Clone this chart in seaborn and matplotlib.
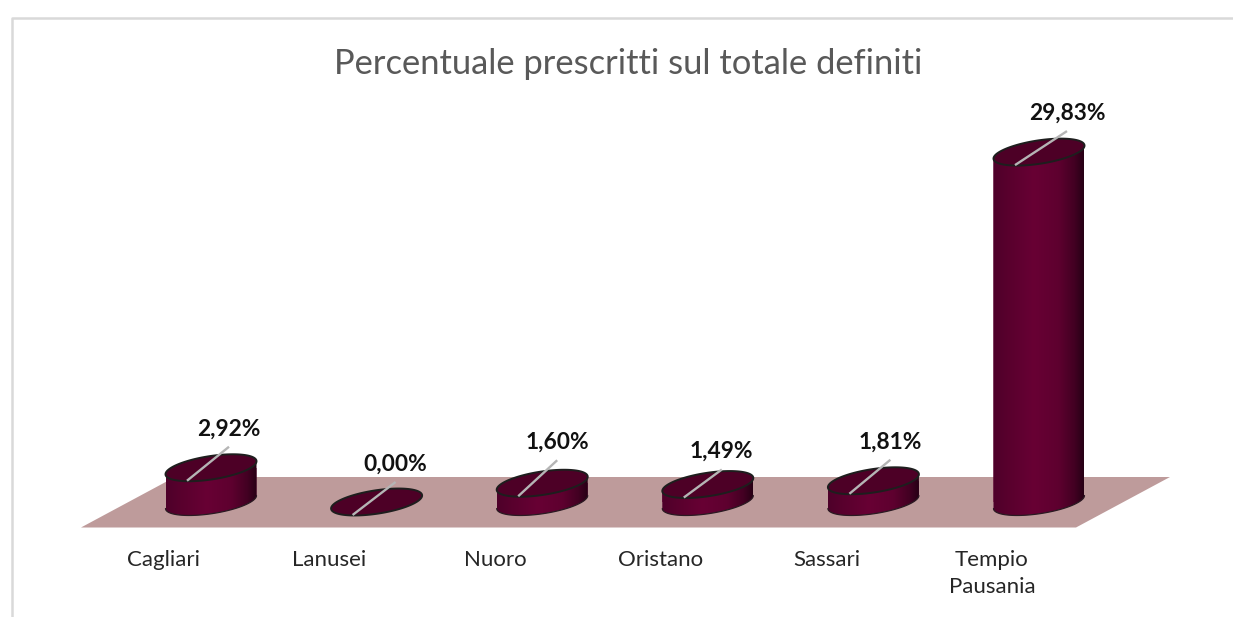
import numpy as np
import pandas as pd
import matplotlib
matplotlib.use("Agg")
import matplotlib.pyplot as plt
import seaborn as sns
from matplotlib.colors import LinearSegmentedColormap
from matplotlib.lines import Line2D
from matplotlib.patches import PathPatch, Polygon
from matplotlib.path import Path
from matplotlib.transforms import ScaledTranslation

# ---- data ----
sedi = ["Cagliari", "Lanusei", "Nuoro", "Oristano", "Sassari", "Tempio\nPausania"]
percentuali = [2.92, 0.00, 1.60, 1.49, 1.81, 29.83]
etichette = ["2,92%", "0,00%", "1,60%", "1,49%", "1,81%", "29,83%"]
titolo = "Percentuale prescritti sul totale definiti"

# ---- layout (figure pixels) ----
W, H = 1233, 617
X0, STEP = 211.0, 165.6      # pixel of first category, pixels per category
Y0, PXU = 502.0, 11.73       # pixel of value 0, pixels per percentage point
AX_BOTTOM = 536.0
label_dx = [18, 19, 15, 14, 17, 28]
label_dy = [39, 38, 41, 33, 39, 39]

sns.set_theme(style="white")
plt.rcParams["font.family"] = ["Lato", "DejaVu Sans"]

fig = plt.figure(figsize=(W / 100, H / 100), dpi=100, facecolor="white")
ax = fig.add_axes([0, (H - AX_BOTTOM) / H, 1, AX_BOTTOM / H])
ax.set_facecolor("none")

df = pd.DataFrame({"sede": sedi, "valore": percentuali})
bar_w = 91 / STEP
sns.barplot(data=df, x="sede", y="valore", color="#660033", width=bar_w,
            saturation=1, linewidth=0, ax=ax, zorder=2)

xlim = (-X0 / STEP, (W - X0) / STEP)
ylim = ((Y0 - AX_BOTTOM) / PXU, Y0 / PXU)

a = bar_w / 2
s = 6.5 / PXU
b = 11.8 / PXU
cmap = LinearSegmentedColormap.from_list(
    "cyl", [(0, "#4E002A"), (0.15, "#58002D"), (0.45, "#680034"),
            (0.72, "#5E002F"), (0.9, "#420022"), (1, "#260015")])
grad = np.linspace(0, 1, 256).reshape(1, -1)

# floor, derived from the pixel layout
def to_data(px, py):
    return ((px - X0) / STEP, (Y0 - py) / PXU)

ax.add_patch(Polygon([to_data(81, 527.5), to_data(1076, 527.5),
                      to_data(1170, 477), to_data(175, 477)],
                     closed=True, facecolor="#BE9B9B", edgecolor="none", zorder=1))

for i, bar in enumerate(ax.patches[:len(sedi)]):
    x_c = bar.get_x() + bar.get_width() / 2
    v = bar.get_height()
    t_front = np.linspace(np.pi, 2 * np.pi, 60)
    xb = x_c + a * np.cos(t_front)
    yb = b * np.sin(t_front) + s * np.cos(t_front)
    if v > 0:
        verts = np.concatenate([np.column_stack([xb, yb]),
                                np.column_stack([xb[::-1], yb[::-1] + v])])
        body = PathPatch(Path(np.vstack([verts, verts[0]]), closed=True),
                         transform=ax.transData, facecolor="none", edgecolor="none")
        ax.add_patch(body)
        bar.set_clip_path(body)
        im = ax.imshow(grad, cmap=cmap, aspect="auto", zorder=3,
                       extent=(x_c - a, x_c + a, -s - b, v + s + b))
        im.set_clip_path(body)
        # dark edge at the foot of the cylinder
        ax.plot(xb, yb, color="#2A1A22", lw=0.9, zorder=4)
    # top ellipse
    t = np.linspace(0, 2 * np.pi, 160)
    top = np.column_stack([x_c + a * np.cos(t), v + b * np.sin(t) + s * np.cos(t)])
    ax.add_patch(Polygon(top, closed=True, facecolor="#4D0026", edgecolor="#1E1E1E",
                         lw=1.4, zorder=5))
    # leader line
    dx, dy = label_dx[i], label_dy[i]
    ax.plot([x_c - 24 / STEP, x_c + dx / STEP],
            [v - 13 / PXU, v + (dy - 18) / PXU],
            color="#B5B5B5", lw=1.7, zorder=6, solid_capstyle="butt")
    ax.annotate(etichette[i], xy=(x_c, v), xytext=(dx, dy), textcoords="offset pixels",
                ha="center", va="center", fontsize=16.4, fontweight="bold",
                color="#111111", zorder=7)

ax.set_xlim(xlim)
ax.set_ylim(ylim)
ax.set_xlabel("")
ax.set_ylabel("")
ax.set_yticks([])
ax.set_xticks(range(len(sedi)))
ax.set_xticklabels(sedi, fontsize=16, color="#262626", linespacing=1.42)
ax.tick_params(axis="x", length=0, pad=10)
shift = ScaledTranslation(-47 / 100, 0, fig.dpi_scale_trans)
for lab in ax.get_xticklabels():
    lab.set_transform(lab.get_transform() + shift)
sns.despine(ax=ax, left=True, bottom=True)

fig.text(628.5 / W, 1 - 63.5 / H, titolo, ha="center", va="center",
         fontsize=24.85, color="#595959")

# chart frame
frame = "#D9D9D9"
fig.add_artist(Line2D([12.5 / W, 12.5 / W, 1], [0, 1 - 17.5 / H, 1 - 17.5 / H],
                      color=frame, lw=1.8, transform=fig.transFigure))

fig.savefig("out.png", dpi=100, facecolor="white")
